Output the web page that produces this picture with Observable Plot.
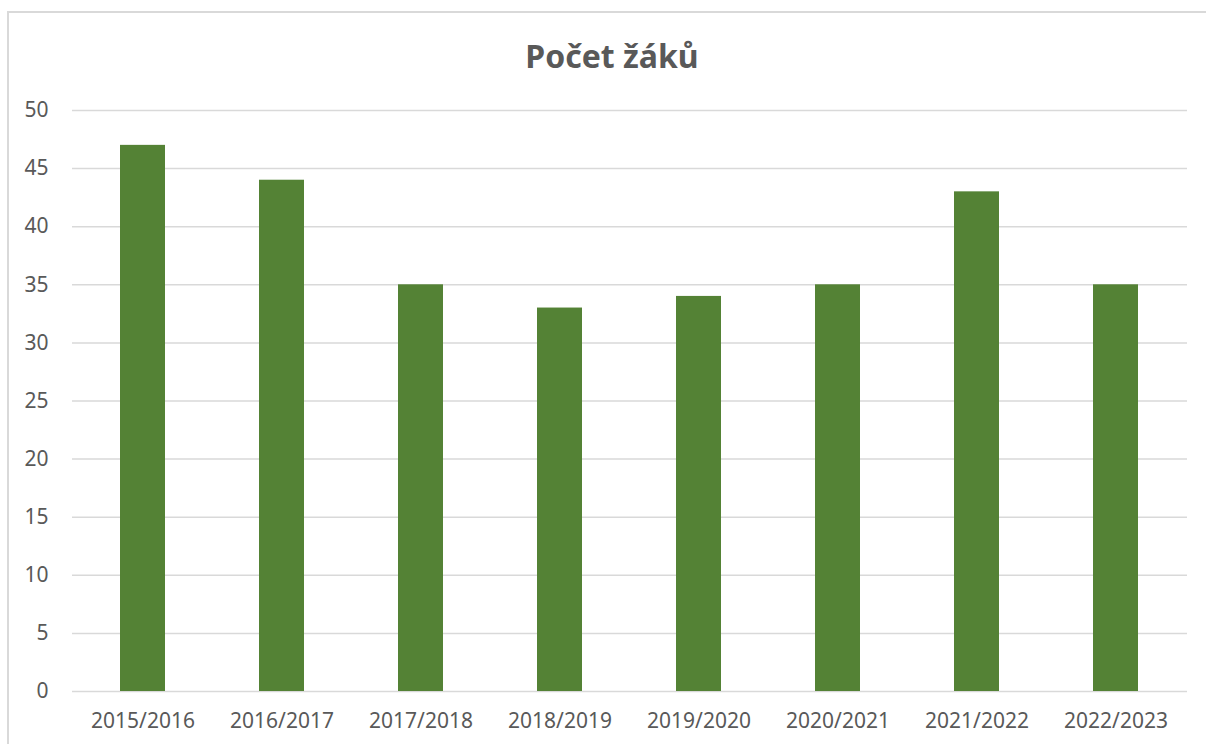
<!DOCTYPE html>
<html>
<head>
<meta charset="utf-8">
<script src="https://cdn.jsdelivr.net/npm/d3@7"></script>
<script src="https://cdn.jsdelivr.net/npm/@observablehq/plot@0.6"></script>
<style>
  html, body { margin: 0; padding: 0; background: #fff; overflow: hidden; width: 1206px; height: 744px; }
  #wrap { position: relative; width: 1206px; height: 744px; overflow: hidden; }
  #btop { position: absolute; left: 7px; top: 11px; width: 1199px; height: 1.5px; background: #d9d9d9; }
  #bleft { position: absolute; left: 7px; top: 11px; width: 1.5px; height: 733px; background: #d9d9d9; }
  #title { position: absolute; left: 612px; top: 40px; transform: translateX(-50%); font-family: "Noto Sans", sans-serif; font-weight: bold; font-size: 32px; color: #595959; white-space: nowrap; line-height: 1; }
  #chart { position: absolute; left: 0; top: 0; }
</style>
</head>
<body>
<div id="wrap">
  <div id="btop"></div>
  <div id="bleft"></div>
  <div id="chart"></div>
  <div id="title">Počet žáků</div>
</div>
<script>
const years = ["2015/2016", "2016/2017", "2017/2018", "2018/2019", "2019/2020", "2020/2021", "2021/2022", "2022/2023"];
const pupils = [47, 44, 35, 33, 34, 35, 43, 35];
const yTicks = [0, 5, 10, 15, 20, 25, 30, 35, 40, 45, 50];

const data = years.map((y, i) => ({year: y, value: pupils[i]}));

const chart = Plot.plot({
  width: 1206,
  height: 744,
  marginLeft: 72,
  marginRight: 19,
  marginTop: 110,
  marginBottom: 53,
  style: {fontFamily: "'Noto Sans', sans-serif", fontSize: "21px", color: "#595959", background: "transparent", overflow: "visible"},
  x: {domain: years, paddingInner: 0.673, paddingOuter: 0.3365, align: 0.5, label: null},
  y: {domain: [0, 50], ticks: yTicks, label: null},
  marks: [
    Plot.ruleY(yTicks, {stroke: "#d9d9d9", strokeWidth: 1.5, strokeOpacity: 1}),
    Plot.barY(data, {x: "year", y: "value", fill: "#548235"}),
    Plot.axisY({ticks: yTicks, tickSize: 0, tickPadding: 24, tickFormat: d => String(d), fill: "#595959", fontSize: 21, label: null}),
    Plot.axisX({tickSize: 0, tickPadding: 22, fill: "#595959", fontSize: 21, label: null})
  ]
});
document.getElementById("chart").appendChild(chart);
</script>
</body>
</html>
